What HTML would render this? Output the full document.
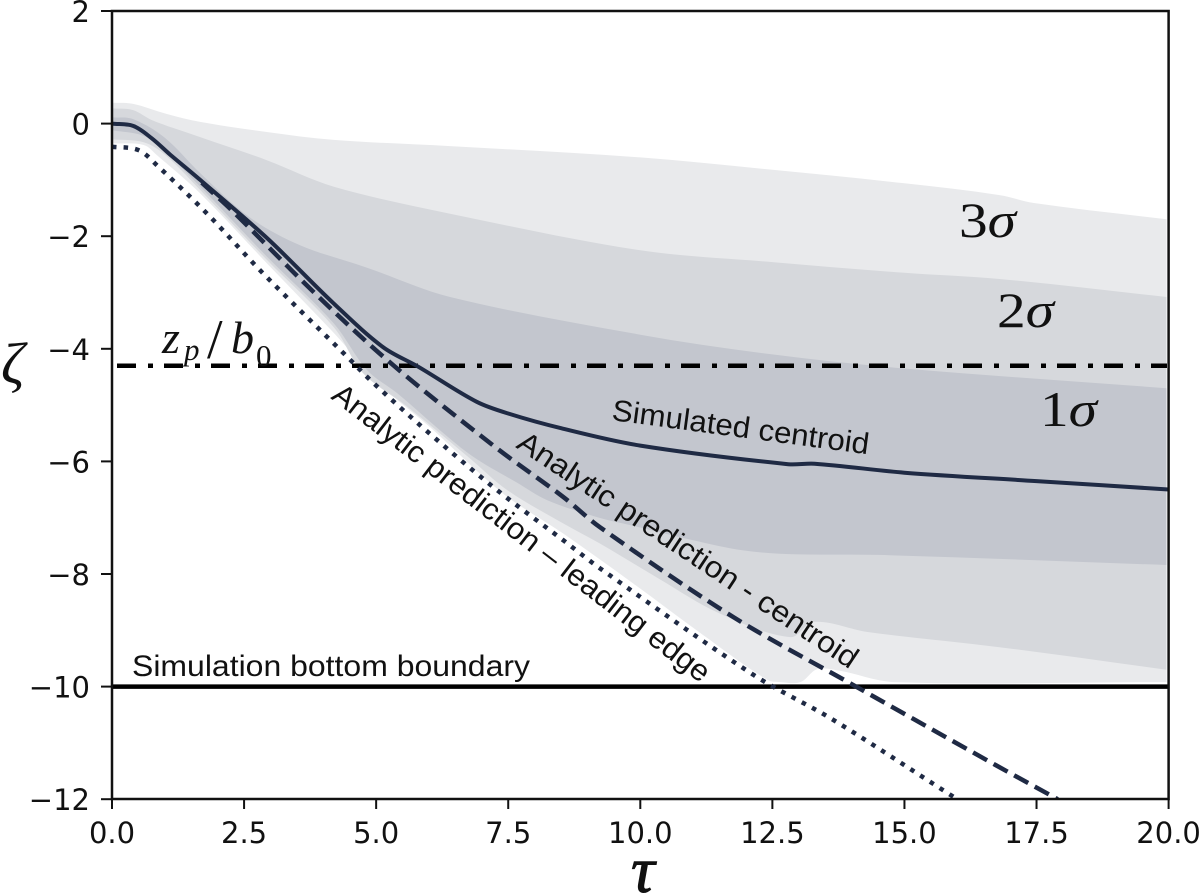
<!DOCTYPE html>
<html lang="en">
<head>
<meta charset="utf-8">
<title>Centroid descent chart</title>
<style>
html,body{margin:0;padding:0;background:#fff;width:1200px;height:895px;overflow:hidden}
svg{display:block}
.ann{font-family:"Liberation Sans",sans-serif;font-size:30px;fill:#111}
.math{font-family:"Liberation Serif",serif;fill:#111}
</style>
</head>
<body>
<svg id="chart" xmlns="http://www.w3.org/2000/svg" width="1200" height="895" viewBox="0 0 1200 895">
<defs><clipPath id="plot-clip"><rect x="112" y="11" width="1057" height="788"/></clipPath></defs>
<g id="bands" clip-path="url(#plot-clip)"></g>
<g id="lines" clip-path="url(#plot-clip)"></g>
<g id="axes"></g>

<text class="ann" x="132" y="676" textLength="398" lengthAdjust="spacingAndGlyphs">Simulation bottom boundary</text>
<text class="ann" transform="translate(611,420) rotate(7.6)" textLength="259" lengthAdjust="spacingAndGlyphs">Simulated centroid</text>
<text class="ann" transform="translate(515,447) rotate(33.6)" textLength="402" lengthAdjust="spacingAndGlyphs">Analytic prediction - centroid</text>
<text class="ann" transform="translate(330,398) rotate(37.6)" textLength="468" lengthAdjust="spacingAndGlyphs">Analytic prediction – leading edge</text>

<text class="math" x="959" y="237" font-size="50" textLength="57" lengthAdjust="spacingAndGlyphs">3<tspan font-style="italic">σ</tspan></text>
<text class="math" x="997" y="327" font-size="50" textLength="57" lengthAdjust="spacingAndGlyphs">2<tspan font-style="italic">σ</tspan></text>
<text class="math" x="1040" y="426" font-size="50" textLength="57" lengthAdjust="spacingAndGlyphs">1<tspan font-style="italic">σ</tspan></text>

<text class="math" font-style="italic"><tspan x="162" y="353" font-size="46">z</tspan><tspan x="184" y="360" font-size="31">p</tspan><tspan x="207" y="358" font-size="56" font-style="normal">/</tspan><tspan x="231" y="353" font-size="46">b</tspan><tspan x="256" y="366" font-size="31" font-style="normal">0</tspan></text>

<text class="math" x="1" y="383" font-size="58" font-style="italic">ζ</text>
<text class="math" x="631" y="892" font-size="66" font-style="italic" stroke="#111" stroke-width="1">τ</text>
</svg>
<script>
const xTicks = [0, 2.5, 5, 7.5, 10, 12.5, 15, 17.5, 20];
const xTickLabels = ["0.0", "2.5", "5.0", "7.5", "10.0", "12.5", "15.0", "17.5", "20.0"];
const yTicks = [2, 0, -2, -4, -6, -8, -10, -12];
const yTickLabels = ["2", "0", "−2", "−4", "−6", "−8", "−10", "−12"];

const band3UpperTau = [0.02, 0.4, 1.04, 1.67, 2.93, 4.2, 6.4, 10, 12.5, 15, 16.8, 17.45, 19.96];
const band3UpperZeta = [0.37, 0.35, 0.17, 0.03, -0.15, -0.29, -0.4, -0.6, -0.82, -1.06, -1.27, -1.41, -1.7];
const band3LowerTau = [0.02, 0.6, 0.85, 1.67, 2.93, 4.2, 5.13, 6.02, 7.4, 8.54, 9.87, 11.14, 12.4, 12.65, 13.03, 13.35, 13.78, 14.8, 19.96];
const band3LowerZeta = [-0.35, -0.38, -0.56, -1.24, -2.48, -3.72, -4.68, -5.39, -6.57, -7.28, -8.17, -9.05, -9.88, -9.92, -9.92, -9.69, -9.72, -9.92, -9.92];

const band2UpperTau = [0.02, 0.4, 0.76, 1.67, 2.93, 4.2, 6.4, 10, 12.5, 15, 16.8, 19.96];
const band2UpperZeta = [0.27, 0.24, 0.06, -0.24, -0.65, -1.12, -1.6, -2.25, -2.46, -2.65, -2.76, -3.08];
const band2LowerTau = [0.02, 0.6, 1, 1.67, 2.93, 4.2, 4.75, 5.58, 6.78, 7.48, 8.5, 9.24, 10.38, 11.5, 12.84, 13.28, 14.3, 16.8, 19.96];
const band2LowerZeta = [-0.28, -0.33, -0.55, -1.18, -2.42, -3.62, -4.43, -5.02, -5.95, -6.51, -7.08, -7.46, -8.1, -8.7, -9.12, -8.85, -9.03, -9.3, -9.7];

const band1UpperTau = [0.02, 0.4, 1, 1.67, 2.6, 3.56, 4.8, 6.4, 10, 12.5, 15, 19.96];
const band1UpperZeta = [0.11, 0.08, -0.25, -0.88, -1.66, -2.16, -2.55, -3.08, -3.75, -4.1, -4.35, -4.7];
const band1LowerTau = [0.02, 0.6, 1, 1.67, 2.93, 4.2, 4.83, 5.4, 6.2, 6.84, 7.67, 8.24, 9.18, 9.8, 11, 11.95, 12.9, 14.5, 19.96];
const band1LowerZeta = [-0.12, -0.22, -0.5, -1.12, -2.36, -3.55, -4.38, -4.79, -5.44, -5.92, -6.38, -6.69, -6.99, -7.13, -7.4, -7.58, -7.65, -7.66, -7.84];

const centroidTau = [0, 0.4, 0.75, 1.1, 1.67, 2.93, 4.19, 5.13, 5.8, 6.9, 7.5, 8.5, 10, 12.8, 13.3, 15, 17.5, 20];
const centroidZeta = [0, -0.04, -0.26, -0.55, -1, -2.03, -3.19, -3.97, -4.32, -4.94, -5.15, -5.41, -5.72, -6.05, -6.04, -6.2, -6.35, -6.5];

const analyticCentroidTau = [1.7, 2.3, 3.88, 5.32, 7.29, 8.54, 9.24, 11.77, 13.97, 16.72, 17.9];
const analyticCentroidZeta = [-1.05, -1.57, -3.05, -4.29, -5.77, -6.63, -7.17, -8.77, -9.94, -11.39, -12];

const leadingEdgeTau = [0, 0.5, 0.85, 1.8, 2.86, 4.45, 4.94, 6.08, 7.29, 8.54, 9.24, 12.14, 13.65, 15.93, 16];
const leadingEdgeZeta = [-0.41, -0.47, -0.74, -1.6, -2.66, -4.14, -4.6, -5.56, -6.51, -7.4, -7.9, -9.79, -10.59, -11.96, -12];

const plasmaDepth = [-4.3];
const bottomBoundary = [-10];

const NS = 'http://www.w3.org/2000/svg';
function xScale(t) { return 112 + t * 52.83; }
function yScale(z) { return 123.6 - z * 56.3; }

function make(tag, attrs, parent) {
  const el = document.createElementNS(NS, tag);
  Object.keys(attrs).forEach(function (k) { el.setAttribute(k, attrs[k]); });
  parent.appendChild(el);
  return el;
}
function pixelPoints(ts, zs) {
  return ts.map(function (t, i) { return [xScale(t), yScale(zs[i])]; });
}
function handle(from, to, len) {
  const dx = to[0] - from[0], dy = to[1] - from[1];
  const n = Math.hypot(dx, dy) || 1;
  return [dx / n * len, dy / n * len];
}
function smoothSegments(p) {
  let d = '';
  for (let i = 0; i < p.length - 1; i++) {
    const a = p[Math.max(i - 1, 0)], b = p[i], c = p[i + 1], e = p[Math.min(i + 2, p.length - 1)];
    const len = Math.hypot(c[0] - b[0], c[1] - b[1]) / 3;
    const h1 = handle(a, c, len), h2 = handle(b, e, len);
    d += 'C' + (b[0] + h1[0]).toFixed(1) + ' ' + (b[1] + h1[1]).toFixed(1) + ' ' + (c[0] - h2[0]).toFixed(1) + ' ' + (c[1] - h2[1]).toFixed(1) + ' ' + c[0].toFixed(1) + ' ' + c[1].toFixed(1);
  }
  return d;
}
function linePath(ts, zs) {
  const p = pixelPoints(ts, zs);
  return 'M' + p[0][0].toFixed(1) + ' ' + p[0][1].toFixed(1) + smoothSegments(p);
}
function bandPath(ut, uz, lt, lz) {
  const up = pixelPoints(ut, uz);
  const low = pixelPoints(lt, lz).reverse();
  return 'M' + up[0][0].toFixed(1) + ' ' + up[0][1].toFixed(1) + smoothSegments(up) +
    'L' + low[0][0].toFixed(1) + ' ' + low[0][1].toFixed(1) + smoothSegments(low) + 'Z';
}

const bands = document.getElementById('bands');
const lines = document.getElementById('lines');
const axes = document.getElementById('axes');

const band3 = make('path', { d: bandPath(band3UpperTau, band3UpperZeta, band3LowerTau, band3LowerZeta), fill: '#e9eaec' }, bands);


const band2 = make('path', { d: bandPath(band2UpperTau, band2UpperZeta, band2LowerTau, band2LowerZeta), fill: '#d6d8dc' }, bands);


const band1 = make('path', { d: bandPath(band1UpperTau, band1UpperZeta, band1LowerTau, band1LowerZeta), fill: '#c3c6ce' }, bands);



const depthLine = make('line', { x1: 117, x2: 1167, y1: yScale(plasmaDepth[0]), y2: yScale(plasmaDepth[0]), stroke: '#000', 'stroke-width': 4.5, 'stroke-dasharray': '19 12 5 11' }, lines);


const boundaryLine = make('line', { x1: xScale(0), x2: xScale(20), y1: yScale(bottomBoundary[0]), y2: yScale(bottomBoundary[0]), stroke: '#000', 'stroke-width': 4.5 }, lines);



const leadingLine = make('path', { d: linePath(leadingEdgeTau, leadingEdgeZeta), fill: 'none', stroke: '#1f2a44', 'stroke-width': 4.5, 'stroke-dasharray': '4.5 7.1' }, lines);


const analyticLine = make('path', { d: linePath(analyticCentroidTau, analyticCentroidZeta), fill: 'none', stroke: '#1f2a44', 'stroke-width': 4.5, 'stroke-dasharray': '16 7.5' }, lines);


const centroidLine = make('path', { d: linePath(centroidTau, centroidZeta), fill: 'none', stroke: '#1f2a44', 'stroke-width': 4, 'stroke-linejoin': 'round' }, lines);



const frame = make('rect', { x: 112, y: 11, width: 1056.6, height: 788, fill: 'none', stroke: '#111', 'stroke-width': 2.5 }, axes);



xTicks.forEach(function (t, i) {
  const x = xScale(t);
  const tick = make('line', { x1: x, x2: x, y1: 799, y2: 809, stroke: '#111', 'stroke-width': 2 }, axes);
  
  
  const label = make('text', { x: x, y: 843, 'text-anchor': 'middle', 'font-family': '"DejaVu Sans",sans-serif', 'font-size': 29, fill: '#111' }, axes);
  
  
  label.textContent = xTickLabels[i];
});
yTicks.forEach(function (z, i) {
  const y = yScale(z);
  const tick = make('line', { x1: 101, x2: 112, y1: y, y2: y, stroke: '#111', 'stroke-width': 2 }, axes);
  
  
  const label = make('text', { x: 90, y: y + 11, 'text-anchor': 'end', 'font-family': '"DejaVu Sans",sans-serif', 'font-size': 29, fill: '#111' }, axes);
  
  
  label.textContent = yTickLabels[i];
});
</script>
</body>
</html>
